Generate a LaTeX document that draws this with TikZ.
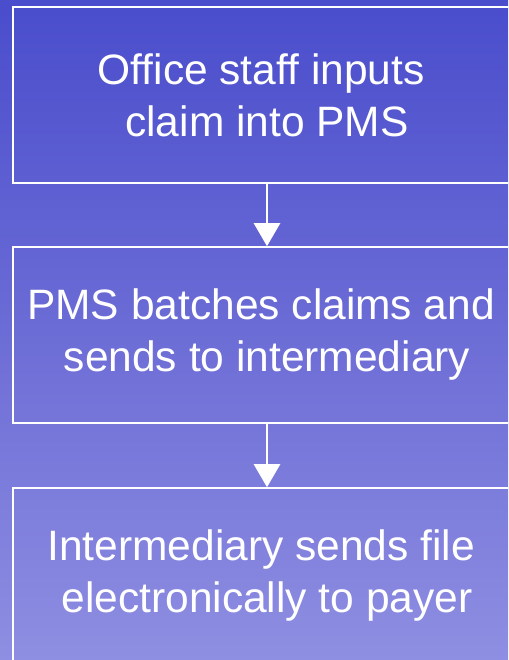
\documentclass[tikz,border=0pt]{standalone}
\usepackage{fontspec}
\setmainfont{Liberation Sans}
\usetikzlibrary{arrows.meta}
\definecolor{bgtop}{RGB}{74,77,204}
\definecolor{bgmid}{RGB}{108,108,214}
\definecolor{bgbot}{RGB}{142,142,226}
% trailing word gap kept at the end of a first line
\newcommand{\trailgap}{\rule{0.278em}{0pt}}
\tikzset{
  x=1pt, y=1pt,
  stepbox/.style={draw=white, line width=1.6pt, minimum width=508pt, minimum height=176pt,
    inner sep=0pt, align=center, text=white, font=\fontsize{42.5}{52}\selectfont},
  flow/.style={draw=white, line width=2.6pt,
    -{Triangle[width=26pt,length=23pt]}},
}
\begin{document}
\begin{tikzpicture}
  \useasboundingbox (0,0) rectangle (508,-660);
  \clip (0,0) rectangle (508,-660);
  % vertical blue gradient backdrop
  \shade[top color=bgtop, bottom color=bgbot, middle color=bgmid] (0,0) rectangle (508,-660);
  % process steps
  \node[stepbox] (s1) at (267,-95)  {Office staff inputs\trailgap\\ claim into PMS};
  \node[stepbox] (s2) at (267,-335) {PMS batches claims and\trailgap\\ sends to intermediary};
  \node[stepbox] (s3) at (267,-576) {Intermediary sends file\trailgap\\ electronically to payer};
  % connectors
  \draw[flow] (s1.south) -- (s2.north);
  \draw[flow] (s2.south) -- (s3.north);
\end{tikzpicture}
\end{document}
